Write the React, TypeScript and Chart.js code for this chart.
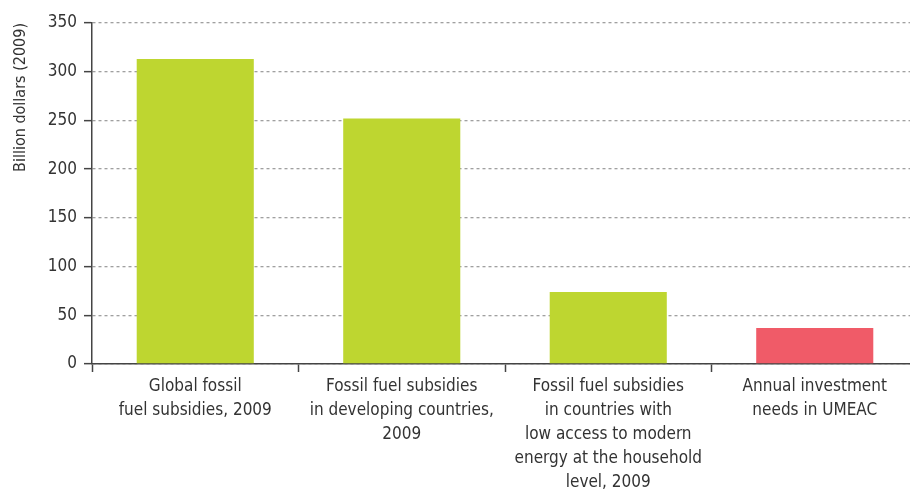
import React, { useEffect, useRef } from "react";
import { Chart, registerables } from "chart.js";

Chart.register(...registerables);

const categories: string[][] = [
  ["Global fossil", "fuel subsidies, 2009"],
  ["Fossil fuel subsidies", "in developing countries,", "2009"],
  ["Fossil fuel subsidies", "in countries with", "low access to modern", "energy at the household", "level, 2009"],
  ["Annual investment", "needs in UMEAC"],
];
const values: number[] = [313, 252, 74, 37];
const barColors: string[] = ["#bed630", "#bed630", "#bed630", "#f05b68"];
const yTicks: number[] = [0, 50, 100, 150, 200, 250, 300, 350];
const yTitle = "Billion dollars (2009)";

const FONT = "'DejaVu Sans Condensed', 'Liberation Sans Narrow', sans-serif";

export default function App() {
  const ref = useRef<HTMLCanvasElement>(null);
  useEffect(() => {
    if (!ref.current) return;
    const chart = new Chart(ref.current, {
      type: "bar",
      data: {
        labels: categories,
        datasets: [
          {
            data: values,
            backgroundColor: barColors,
            borderWidth: 0,
            barPercentage: 0.567,
            categoryPercentage: 1,
          },
        ],
      },
      options: {
        responsive: false,
        animation: false,
        layout: { padding: { top: 23, right: 0, left: 0, bottom: 0 } },
        plugins: { legend: { display: false }, tooltip: { enabled: false } },
        scales: {
          x: {
            grid: {
              drawOnChartArea: false,
              drawTicks: true,
              tickLength: 8,
              tickColor: "#444",
              tickWidth: 1.5,
            },
            border: { display: true, color: "#444", width: 1.5 },
            ticks: {
              color: "#333",
              font: { family: FONT, size: 17, lineHeight: 1.41 },
              padding: 3,
              maxRotation: 0,
              autoSkip: false,
            },
            afterFit: (s: any) => {
              s.height = 135;
            },
          },
          y: {
            min: 0,
            max: 350,
            afterBuildTicks: (s: any) => {
              s.ticks = yTicks.map((v) => ({ value: v }));
            },
            grid: {
              color: "#a0a0a0",
              lineWidth: 1.3,
              tickLength: 8,
              tickColor: "#444",
              tickWidth: 1.5,
              tickBorderDash: [],
            },
            border: { display: true, color: "#444", width: 1.5, dash: [3, 3] },
            ticks: {
              color: "#333",
              font: { family: FONT, size: 17 },
              padding: 7,
            },
            title: {
              display: true,
              text: yTitle,
              align: "end",
              color: "#333",
              font: { family: FONT, size: 16 },
              padding: { top: 11, bottom: 0 },
            },
            afterFit: (s: any) => {
              s.width = 92;
            },
          },
        },
      },
    });
    return () => chart.destroy();
  }, []);
  return (
    <div style={{ position: "absolute", left: 0, top: 0, width: 910, height: 499, overflow: "hidden", background: "#fff" }}>
      <canvas ref={ref} width={918} height={499} style={{ display: "block" }} />
    </div>
  );
}
